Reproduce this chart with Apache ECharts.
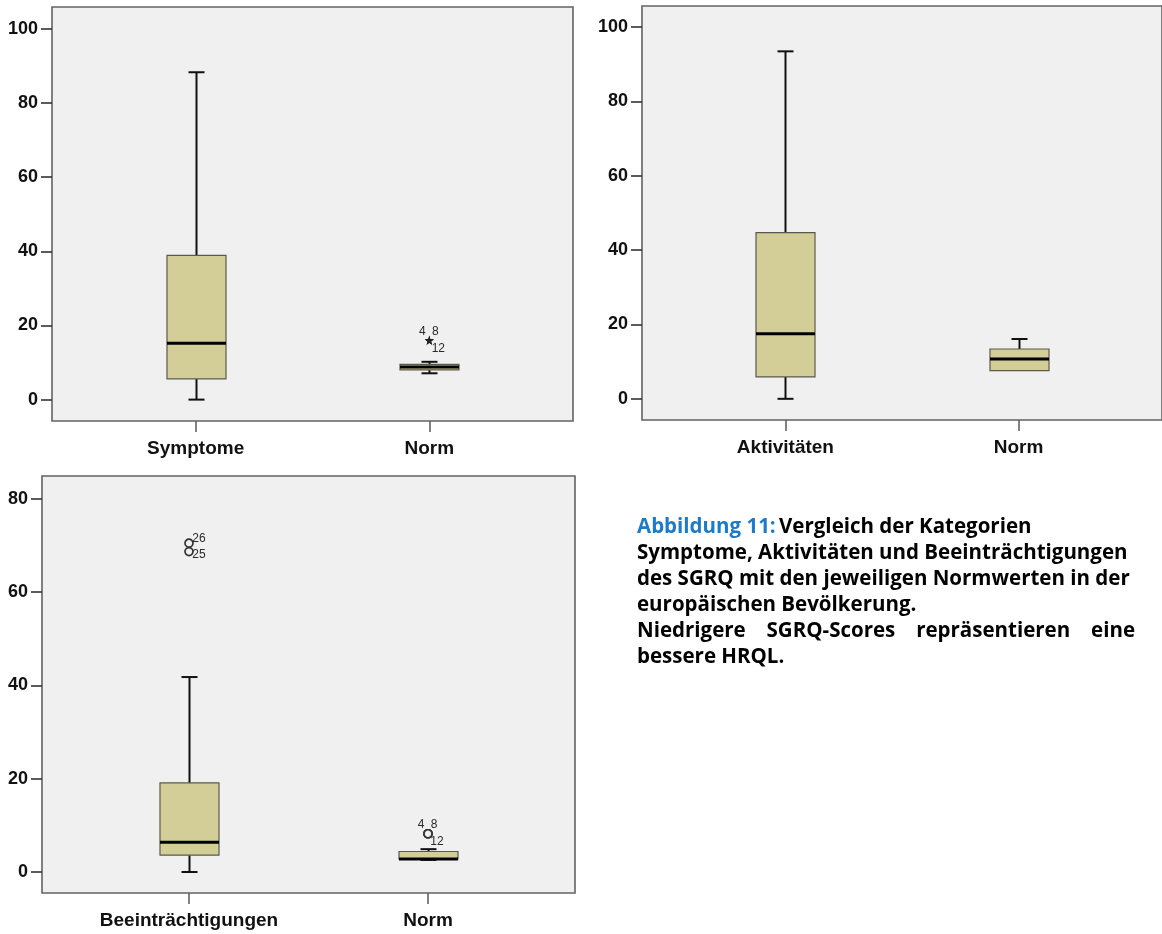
<!DOCTYPE html>
<html>
<head>
<meta charset="utf-8">
<script src="https://cdn.jsdelivr.net/npm/echarts@6/dist/echarts.min.js"></script>
<style>
  html, body { margin: 0; padding: 0; background: #ffffff; }
  #chart { width: 1162px; height: 934px; }
</style>
</head>
<body>
<div id="chart"></div>
<script>
// SGRQ scores of the patient group vs. European norm values, SPSS-style box plots.
// Box rows: [min whisker, Q1, median, Q3, max whisker]
const symptomeCategories = ['Symptome', 'Norm'];
const symptomeBoxes = [
  [0, 5.6, 15.2, 38.9, 88.3],
  [7.1, 8.0, 8.8, 9.5, 10.2]
];
// Outliers: [category position, value, case number, kind]
const symptomeOutliers = [
  [2, 16.0, '4', 'extreme'],
  [2, 16.0, '8', 'extreme'],
  [2, 16.0, '12', 'extreme']
];

const aktivitaetenCategories = ['Aktivitäten', 'Norm'];
const aktivitaetenBoxes = [
  [0, 5.9, 17.5, 44.7, 93.5],
  [7.6, 7.6, 10.7, 13.4, 16.1]
];
const aktivitaetenOutliers = [];

const beeintrCategories = ['Beeinträchtigungen', 'Norm'];
const beeintrBoxes = [
  [0, 3.6, 6.4, 19.1, 41.8],
  [2.6, 2.8, 2.8, 4.4, 4.9]
];
const beeintrOutliers = [
  [1, 70.5, '26', 'outlier'],
  [1, 68.7, '25', 'outlier'],
  [2, 8.2, '4', 'outlier'],
  [2, 8.2, '8', 'outlier'],
  [2, 8.2, '12', 'outlier']
];

const yTicksUpper = [0, 20, 40, 60, 80, 100];
const yTicksLower = [0, 20, 40, 60, 80];

const captionHead = 'Abbildung 11:';
const captionLines = [
  'Vergleich der Kategorien',
  'Symptome, Aktivitäten und Beeinträchtigungen',
  'des SGRQ mit den jeweiligen Normwerten in der',
  'europäischen Bevölkerung.'
];
const captionNote = ['Niedrigere SGRQ-Scores repräsentieren eine', 'bessere HRQL.'];

// ---- styling ----
const BOX_FILL = '#d3ce97';
const BOX_EDGE = '#5a5a4a';
const FRAME = '#636363';
const PLOT_BG = '#f0f0f0';
const BOX_W = 59;
const CAP_W = 16;
const AXIS_FONT = '"Liberation Sans", Arial, sans-serif';
const CAPTION_FONT = '"Open Sans", Lato, sans-serif';

// overlapping case labels are fanned out around the shared marker
const caseLabelOffsets = {
  '4': [-7, -9], '8': [6, -9], '12': [9, 8],
  '26': [10, -4], '25': [10, 3]
};

const STAR = 'path://M50,0 L61,35 L98,35 L68,57 L79,91 L50,70 L21,91 L32,57 L2,35 L39,35 Z';

function renderBox(params, api) {
  const x = api.value(0);
  const lo = api.coord([x, api.value(1)]);
  const q1 = api.coord([x, api.value(2)]);
  const md = api.coord([x, api.value(3)]);
  const q3 = api.coord([x, api.value(4)]);
  const hi = api.coord([x, api.value(5)]);
  const cx = Math.round(lo[0]) + 0.5;
  const wStyle = { stroke: '#111', lineWidth: 2 };
  const children = [];
  if (hi[1] < q3[1] - 0.5) {
    children.push({ type: 'line', shape: { x1: cx, y1: q3[1], x2: cx, y2: hi[1] }, style: wStyle });
    children.push({ type: 'line', shape: { x1: cx - CAP_W / 2, y1: hi[1], x2: cx + CAP_W / 2, y2: hi[1] }, style: wStyle });
  }
  if (lo[1] > q1[1] + 0.5) {
    children.push({ type: 'line', shape: { x1: cx, y1: q1[1], x2: cx, y2: lo[1] }, style: wStyle });
    children.push({ type: 'line', shape: { x1: cx - CAP_W / 2, y1: lo[1], x2: cx + CAP_W / 2, y2: lo[1] }, style: wStyle });
  }
  children.push({
    type: 'rect',
    shape: { x: cx - BOX_W / 2, y: q3[1], width: BOX_W, height: q1[1] - q3[1] },
    style: { fill: BOX_FILL, stroke: BOX_EDGE, lineWidth: 1.2 }
  });
  children.push({
    type: 'line',
    shape: { x1: cx - BOX_W / 2, y1: md[1], x2: cx + BOX_W / 2, y2: md[1] },
    style: { stroke: '#000', lineWidth: 3 }
  });
  return { type: 'group', children };
}

function boxSeries(boxes, idx) {
  return {
    type: 'custom',
    xAxisIndex: idx, yAxisIndex: idx,
    renderItem: renderBox,
    encode: { x: 0, y: [1, 2, 3, 4, 5] },
    data: boxes.map((b, i) => [i + 1].concat(b)),
    z: 2
  };
}

function outlierSeries(outliers, idx) {
  return {
    type: 'scatter',
    xAxisIndex: idx, yAxisIndex: idx,
    z: 3,
    data: outliers.map(o => ({
      value: [o[0], o[1]],
      symbol: o[3] === 'extreme' ? STAR : 'circle',
      symbolSize: o[3] === 'extreme' ? 9 : 8,
      itemStyle: o[3] === 'extreme'
        ? { color: '#222', opacity: 1 }
        : { color: PLOT_BG, borderColor: '#333', borderWidth: 1.7, opacity: 1 },
      label: {
        show: true,
        formatter: o[2],
        position: 'inside',
        offset: caseLabelOffsets[o[2]] || [8, 0],
        color: '#2a2a2a',
        fontSize: 12,
        fontFamily: AXIS_FONT
      }
    }))
  };
}

const grids = [
  { left: 52, top: 7, width: 521, height: 414 },
  { left: 642, top: 6, width: 528, height: 414 },
  { left: 42, top: 476, width: 533, height: 417 }
].map(g => Object.assign({
  show: true, backgroundColor: PLOT_BG, borderColor: FRAME, borderWidth: 1.6, containLabel: false
}, g));

function xAxisFor(cats, idx) {
  return {
    type: 'value', gridIndex: idx, min: 0.385, max: 2.615, position: 'bottom',
    axisLine: { show: false, onZero: false },
    splitLine: { show: false },
    axisTick: { show: true, customValues: [1, 2], length: 11, lineStyle: { color: FRAME, width: 1.6 } },
    axisLabel: {
      customValues: [1, 2], margin: 18,
      formatter: v => cats[Math.round(v) - 1],
      color: '#111', fontSize: 19, fontWeight: 'bold', fontFamily: AXIS_FONT
    }
  };
}

function yAxisFor(ticks, min, max, idx) {
  return {
    type: 'value', gridIndex: idx, min, max, position: 'left',
    axisLine: { show: false, onZero: false },
    splitLine: { show: false },
    axisTick: { show: true, customValues: ticks, length: 11, lineStyle: { color: '#333', width: 1.6 } },
    axisLabel: {
      customValues: ticks, margin: 14,
      color: '#111', fontSize: 18, fontWeight: 'bold', fontFamily: AXIS_FONT
    }
  };
}

// caption block: first paragraph left aligned, note paragraph justified
const CAP_X = 637, CAP_RIGHT = 1135, CAP_Y = 527, CAP_LH = 26, CAP_SIZE = 20.5;
const CAP_FONT_CSS = 'bold ' + CAP_SIZE + 'px ' + CAPTION_FONT;
const captionText = [];
captionText.push({
  type: 'text', x: CAP_X, y: CAP_Y,
  style: {
    text: '{h|' + captionHead + '} {b|' + captionLines[0] + '}',
    verticalAlign: 'middle',
    rich: {
      h: { fill: '#1f7ac6', fontSize: CAP_SIZE, fontWeight: 'bold', fontFamily: CAPTION_FONT },
      b: { fill: '#000', fontSize: CAP_SIZE, fontWeight: 'bold', fontFamily: CAPTION_FONT }
    }
  }
});
captionLines.slice(1).forEach((line, i) => {
  captionText.push({
    type: 'text', x: CAP_X, y: CAP_Y + (i + 1) * CAP_LH,
    style: { text: line, fill: '#000', font: CAP_FONT_CSS, verticalAlign: 'middle' }
  });
});
// justified line of the note paragraph
(function () {
  const ctx = document.createElement('canvas').getContext('2d');
  ctx.font = CAP_FONT_CSS;
  const words = captionNote[0].split(' ');
  const widths = words.map(w => ctx.measureText(w).width);
  const total = widths.reduce((a, b) => a + b, 0);
  const gap = (CAP_RIGHT - CAP_X - total) / (words.length - 1);
  let x = CAP_X;
  const y = CAP_Y + 4 * CAP_LH;
  words.forEach((w, i) => {
    captionText.push({
      type: 'text', x: x, y: y,
      style: { text: w, fill: '#000', font: CAP_FONT_CSS, verticalAlign: 'middle' }
    });
    x += widths[i] + gap;
  });
  captionText.push({
    type: 'text', x: CAP_X, y: CAP_Y + 5 * CAP_LH,
    style: { text: captionNote[1], fill: '#000', font: CAP_FONT_CSS, verticalAlign: 'middle' }
  });
})();

const chart = echarts.init(document.getElementById('chart'), null, { renderer: 'canvas' });
chart.setOption({
  backgroundColor: '#ffffff',
  animation: false,
  grid: grids,
  xAxis: [
    xAxisFor(symptomeCategories, 0),
    xAxisFor(aktivitaetenCategories, 1),
    xAxisFor(beeintrCategories, 2)
  ],
  yAxis: [
    yAxisFor(yTicksUpper, -5.77, 105.9, 0),
    yAxisFor(yTicksUpper, -5.7, 105.7, 1),
    yAxisFor(yTicksLower, -4.5, 84.9, 2)
  ],
  series: [
    boxSeries(symptomeBoxes, 0),
    outlierSeries(symptomeOutliers, 0),
    boxSeries(aktivitaetenBoxes, 1),
    outlierSeries(aktivitaetenOutliers, 1),
    boxSeries(beeintrBoxes, 2),
    outlierSeries(beeintrOutliers, 2)
  ],
  graphic: captionText
});
</script>
</body>
</html>
